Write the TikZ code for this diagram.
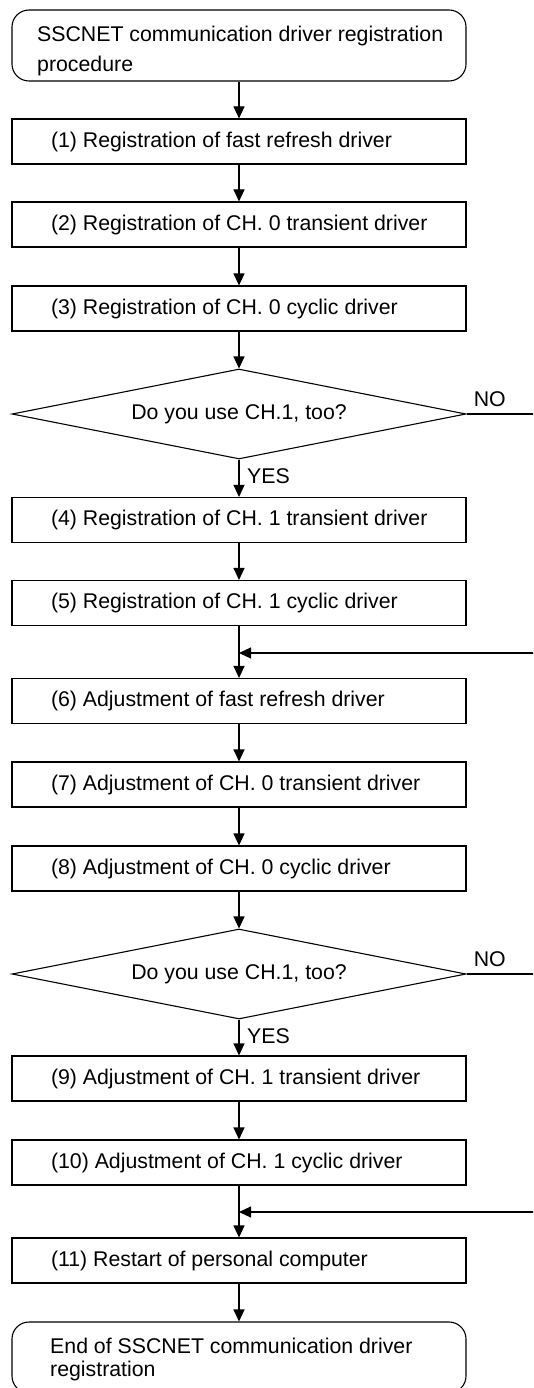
\documentclass[tikz,border=0pt]{standalone}
\usepackage{fontspec}
\setmainfont{Liberation Sans}
\usetikzlibrary{arrows.meta,shapes.geometric,calc}
\newcommand{\boxtxt}[1]{\makebox[376pt][l]{#1}}
\begin{document}
\begin{tikzpicture}[x=1pt,y=-1pt,
  every node/.style={font=\fontsize{21.3}{25}\selectfont},
  ln/.style={line width=1.1pt},
  stepbox/.style={draw, line width=1.1pt, minimum height=45pt, inner xsep=39pt, inner ysep=0pt},
  term/.style={draw, line width=1.1pt, rounded corners=17pt, minimum width=454pt, minimum height=71pt, inner sep=0pt},
  decide/.style={draw, line width=1.1pt, diamond, shape aspect=5, inner sep=0pt, minimum width=454pt, minimum height=90pt},
  arr/.style={ln, -{Triangle[length=12pt,width=11pt]}},
  lbl/.style={anchor=base west, inner sep=0pt}
]
\clip (0,0) rectangle (533,1388);
\fill[white] (0,0) rectangle (533,1388);

\node[term] (start) at (239,45.5) {};
\node[lbl] (starttxt) at (37,41.7) {\parbox[t]{420pt}{\fontsize{21.3}{30}\selectfont SSCNET communication driver registration\\procedure}};

\node[stepbox] (b1) at (239,141.5) {\boxtxt{(1) Registration of fast refresh driver}};
\node[stepbox] (b2) at (239,224.5) {\boxtxt{(2) Registration of CH. 0 transient driver}};
\node[stepbox] (b3) at (239,308.5) {\boxtxt{(3) Registration of CH. 0 cyclic driver}};
\node[decide] (d1) at (239,414) {Do you use CH.1, too?};
\node[stepbox] (b4) at (239,520) {\boxtxt{(4) Registration of CH. 1 transient driver}};
\node[stepbox] (b5) at (239,603) {\boxtxt{(5) Registration of CH. 1 cyclic driver}};
\coordinate (j1) at (239,653);
\node[stepbox] (b6) at (239,701) {\boxtxt{(6) Adjustment of fast refresh driver}};
\node[stepbox] (b7) at (239,784.5) {\boxtxt{(7) Adjustment of CH. 0 transient driver}};
\node[stepbox] (b8) at (239,868.5) {\boxtxt{(8) Adjustment of CH. 0 cyclic driver}};
\node[decide] (d2) at (239,974) {Do you use CH.1, too?};
\node[stepbox] (b9) at (239,1078.5) {\boxtxt{(9) Adjustment of CH. 1 transient driver}};
\node[stepbox] (b10) at (239,1162.5) {\boxtxt{(10) Adjustment of CH. 1 cyclic driver}};
\coordinate (j2) at (239,1212);
\node[stepbox] (b11) at (239,1260.5) {\boxtxt{(11) Restart of personal computer}};
\node[term] (finish) at (239,1357.5) {};
\node[lbl] (finishtxt) at (50,1353) {\parbox[t]{420pt}{\fontsize{21.3}{23}\selectfont End of SSCNET communication driver\\registration}};

\node[lbl] (no1) at ($(d1.east)+(7,-8)$) {NO};
\node[lbl] (yes1) at ($(d1.south)+(8,24)$) {YES};
\node[lbl] (no2) at ($(d2.east)+(7,-8)$) {NO};
\node[lbl] (yes2) at ($(d2.south)+(8,24)$) {YES};

\draw[arr] (start) -- (b1);
\draw[arr] (b1) -- (b2);
\draw[arr] (b2) -- (b3);
\draw[arr] (b3) -- (d1);
\draw[arr] (d1) -- (b4);
\draw[arr] (b4) -- (b5);
\draw[arr] (b5) -- (b6);
\draw[arr] (d1.east) -- ++(100,0) |- (j1);
\draw[arr] (b6) -- (b7);
\draw[arr] (b7) -- (b8);
\draw[arr] (b8) -- (d2);
\draw[arr] (d2) -- (b9);
\draw[arr] (b9) -- (b10);
\draw[arr] (b10) -- (b11);
\draw[arr] (d2.east) -- ++(100,0) |- (j2);
\draw[arr] (b11) -- (finish);
\end{tikzpicture}
\end{document}
